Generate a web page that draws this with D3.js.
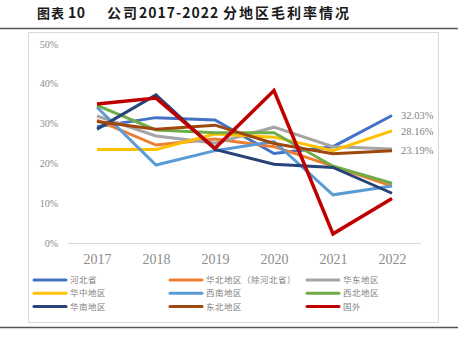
<!DOCTYPE html>
<html>
<head>
<meta charset="utf-8">
<script src="https://cdn.jsdelivr.net/npm/d3@7"></script>
<style>
  body { margin: 0; background: #fff; }
  svg { display: block; }
</style>
</head>
<body>
<div id="chart"></div>
<script>
var years = ['2017', '2018', '2019', '2020', '2021', '2022'];
var regionNames = ['河北省', '华北地区（除河北省）', '华东地区', '华中地区', '西南地区', '西北地区', '华南地区', '东北地区', '国外'];
var regionColors = ['#4472C4', '#ED7D31', '#A5A5A5', '#FFC000', '#5B9BD5', '#70AD47', '#264478', '#9E480E', '#C00000'];

var hebei     = [29.2, 31.5, 30.9, 22.5, 24.2, 32.03];
var huabei    = [30.9, 24.6, 26.1, 24.2, 19.3, 14.3];
var huadong   = [31.9, 26.9, 25.1, 29.1, 24.2, 23.6];
var huazhong  = [23.5, 23.5, 27.4, 26.6, 23.2, 28.16];
var xinan     = [34.1, 19.6, 23.2, 25.5, 12.1, 14.3];
var xibei     = [34.6, 28.4, 27.7, 27.7, 19.3, 15.0];
var huanan    = [28.6, 37.2, 23.5, 19.8, 19.0, 12.5];
var dongbei   = [30.5, 28.6, 29.6, 25.0, 22.4, 23.19];
var guowai    = [34.9, 36.4, 23.8, 38.3, 2.3, 11.2];

var yTicks = [0, 10, 20, 30, 40, 50];
var endLabels = [
    { series: 0, text: '32.03%' },
    { series: 3, text: '28.16%' },
    { series: 7, text: '23.19%' }
];
var titleParts = [
    { x: 37, text: '图表', size: 13, spacing: 1 },
    { x: 68, text: '10', size: 14, spacing: 0.5 },
    { x: 107, text: '公司', size: 14, spacing: 2 },
    { x: 139, text: '2017-2022', size: 14, spacing: 1 },
    { x: 223, text: '分地区毛利率情况', size: 14, spacing: 2 }
];

(function () {
    var seriesValues = [hebei, huabei, huadong, huazhong, xinan, xibei, huanan, dongbei, guowai];

    var svg = d3.select('#chart')
        .append('svg')
        .attr('width', 458)
        .attr('height', 345);

    // title
    var title = svg.append('text')
        .attr('y', 18)
        .attr('font-family', '"Noto Sans CJK SC", sans-serif')
        .attr('font-weight', 'bold')
        .attr('fill', '#1a1a1a');
    titleParts.forEach(function (p) {
        title.append('tspan')
            .attr('x', p.x)
            .attr('font-size', p.size)
            .attr('letter-spacing', p.spacing)
            .text(p.text);
    });

    svg.append('line')
        .attr('x1', 0).attr('x2', 458)
        .attr('y1', 28.5).attr('y2', 28.5)
        .attr('stroke', '#555').attr('stroke-width', 1.5);

    svg.append('line')
        .attr('x1', 0).attr('x2', 458)
        .attr('y1', 327.5).attr('y2', 327.5)
        .attr('stroke', '#555').attr('stroke-width', 1.5);

    // chart frame
    svg.append('rect')
        .attr('x', 28.5).attr('y', 32.5)
        .attr('width', 410).attr('height', 290)
        .attr('fill', 'none')
        .attr('stroke', '#d9d9d9')
        .attr('stroke-width', 1);

    var x = d3.scalePoint()
        .domain(years)
        .range([97, 392]);

    var y = d3.scaleLinear()
        .domain([0, 50])
        .range([243, 44]);

    // y ticks
    svg.append('g')
        .selectAll('text')
        .data(yTicks)
        .enter()
        .append('text')
        .attr('x', 58)
        .attr('y', function (d) { return y(d); })
        .attr('dy', '0.35em')
        .attr('text-anchor', 'end')
        .attr('font-family', '"Liberation Serif", serif')
        .attr('font-size', 10)
        .attr('fill', '#8c8c8c')
        .text(function (d) { return d + '%'; });

    // x axis
    var xAxis = svg.append('g')
        .attr('transform', 'translate(0,' + y(0) + ')')
        .call(d3.axisBottom(x).tickSize(0).tickPadding(11));
    xAxis.select('.domain').remove();
    xAxis.append('line')
        .attr('x1', 68).attr('x2', 421)
        .attr('y1', 0.5).attr('y2', 0.5)
        .attr('stroke', '#d9d9d9');
    xAxis.selectAll('text')
        .attr('font-family', '"Liberation Serif", serif')
        .attr('font-size', 14)
        .attr('fill', '#8c8c8c');

    var line = d3.line()
        .x(function (d, i) { return x(years[i]); })
        .y(function (d) { return y(d); });

    seriesValues.forEach(function (vals, i) {
        svg.append('path')
            .datum(vals)
            .attr('d', line)
            .attr('fill', 'none')
            .attr('stroke', regionColors[i])
            .attr('stroke-width', i === 8 ? 3.5 : 3)
            .attr('stroke-linejoin', 'miter');
    });

    // end labels
    endLabels.forEach(function (lab) {
        var v = seriesValues[lab.series];
        svg.append('text')
            .attr('x', 401)
            .attr('y', y(v[v.length - 1]))
            .attr('dy', '0.35em')
            .attr('font-family', '"Liberation Serif", serif')
            .attr('font-size', 10.5)
            .attr('fill', '#7f7f7f')
            .text(lab.text);
    });

    // legend
    var colX = [34, 170, 307];
    var rowY = [280, 293.3, 306.6];
    regionNames.forEach(function (name, i) {
        var g = svg.append('g')
            .attr('transform', 'translate(' + colX[i % 3] + ',' + rowY[Math.floor(i / 3)] + ')');
        g.append('line')
            .attr('x1', 0).attr('x2', 32)
            .attr('stroke', regionColors[i])
            .attr('stroke-width', 3)
            .attr('stroke-linecap', 'round');
        g.append('text')
            .attr('x', 36)
            .attr('dy', '0.35em')
            .attr('font-family', '"Noto Sans CJK SC", sans-serif')
            .attr('font-size', 8.5)
            .attr('letter-spacing', 0.5)
            .attr('fill', '#7f7f7f')
            .text(name);
    });
})();
</script>
</body>
</html>
